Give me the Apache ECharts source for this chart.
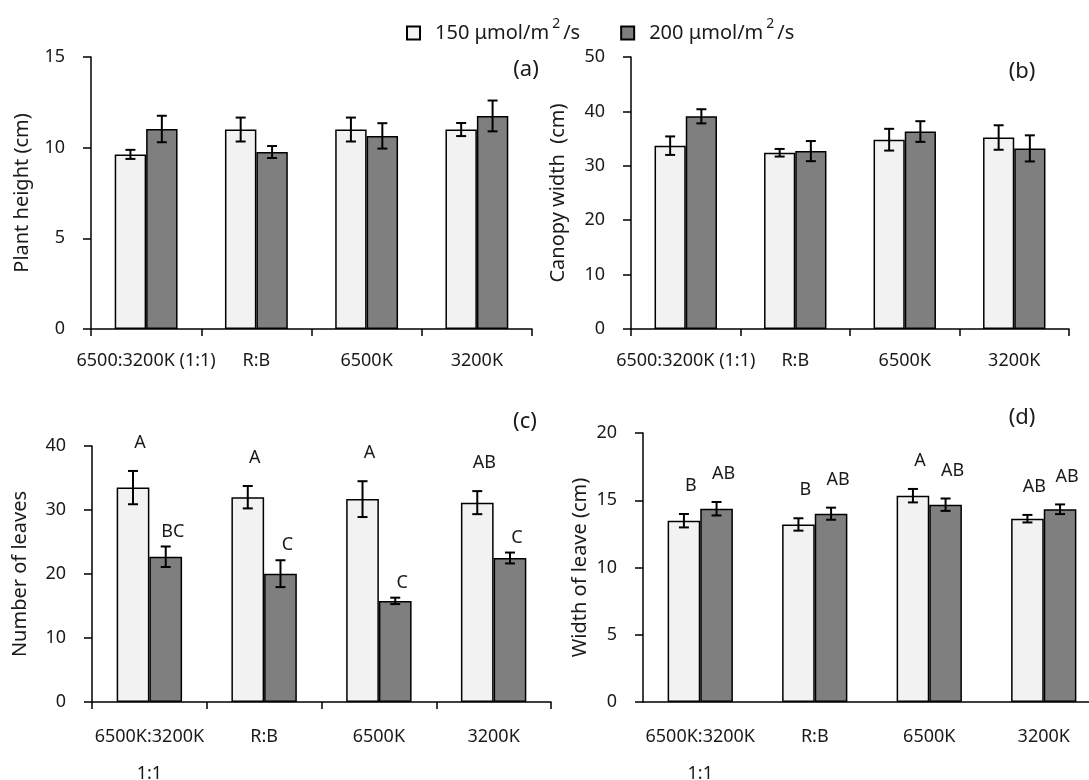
<!DOCTYPE html>
<html><head><meta charset="utf-8">
<script src="https://cdn.jsdelivr.net/npm/echarts@6/dist/echarts.min.js"></script>
<style>html,body{margin:0;padding:0;background:#fff}#c{width:1089px;height:780px}</style>
</head><body><div id="c"></div>
<script>
// ---- data ----
const catsTop = ['6500:3200K (1:1)', 'R:B', '6500K', '3200K'];
const catsBottom = ['6500K:3200K\n1:1', 'R:B', '6500K', '3200K'];
const seriesNames = ['150 μmol/m2/s', '200 μmol/m2/s'];

const heightLow = [9.63, 11.0, 11.0, 11.0];
const heightLowErr = [0.25, 0.66, 0.66, 0.36];
const heightHigh = [11.03, 9.76, 10.65, 11.75];
const heightHighErr = [0.73, 0.33, 0.70, 0.85];

const canopyLow = [33.7, 32.4, 34.8, 35.2];
const canopyLowErr = [1.7, 0.7, 2.0, 2.25];
const canopyHigh = [39.1, 32.7, 36.3, 33.2];
const canopyHighErr = [1.3, 1.85, 1.9, 2.4];

const leavesLow = [33.5, 32.0, 31.7, 31.15];
const leavesLowErr = [2.6, 1.75, 2.8, 1.8];
const leavesHigh = [22.7, 20.05, 15.8, 22.5];
const leavesHighErr = [1.6, 2.1, 0.5, 0.85];
const leavesLowLetters = ['A', 'A', 'A', 'AB'];
const leavesHighLetters = ['BC', 'C', 'C', 'C'];

const widthLow = [13.48, 13.2, 15.34, 13.63];
const widthLowErr = [0.5, 0.46, 0.5, 0.28];
const widthHigh = [14.37, 14.0, 14.67, 14.33];
const widthHighErr = [0.5, 0.45, 0.46, 0.36];
const widthLowLetters = ['B', 'B', 'A', 'AB'];
const widthHighLetters = ['AB', 'AB', 'AB', 'AB'];

// ---- style ----
const FONT = '"Noto Sans", sans-serif';
const TXT = '#1a1a1a';
const LIGHT = '#f2f2f2';
const DARK = '#7f7f7f';
const GAP = 0.43;

const panels = [
  {cats: catsTop, low: heightLow, lowErr: heightLowErr, high: heightHigh, highErr: heightHighErr,
   max: 15, interval: 5, name: 'Plant height (cm)', nameGap: 59, ticks: true, lh: 20, lm: 22,
   grid: {left: 91, top: 57, width: 441, height: 272}},
  {cats: catsTop, low: canopyLow, lowErr: canopyLowErr, high: canopyHigh, highErr: canopyHighErr,
   max: 50, interval: 10, name: 'Canopy width  (cm)', nameGap: 63, ticks: true, lh: 20, lm: 22,
   grid: {left: 631, top: 57, width: 438, height: 272}},
  {cats: catsBottom, low: leavesLow, lowErr: leavesLowErr, high: leavesHigh, highErr: leavesHighErr,
   lowLetters: leavesLowLetters, highLetters: leavesHighLetters, lowOff: 28, highOff: 15,
   max: 40, interval: 10, name: 'Number of leaves', nameGap: 62, ticks: true, lh: 37, lm: 16,
   grid: {left: 92, top: 446, width: 459, height: 256}},
  {cats: catsBottom, low: widthLow, lowErr: widthLowErr, high: widthHigh, highErr: widthHighErr,
   lowLetters: widthLowLetters, highLetters: widthHighLetters, lowOff: 28, highOff: 28,
   max: 20, interval: 5, name: 'Width of leave (cm)', nameGap: 53, ticks: false, lh: 37, lm: 16,
   grid: {left: 643, top: 433, width: 458, height: 269}}
];

const axisLineStyle = {color: '#000', width: 1.5};
const grid = [], xAxis = [], yAxis = [], series = [];

function errSeries(gi, vals, errs, side, letters, off) {
  return {
    type: 'custom', xAxisIndex: gi, yAxisIndex: gi, z: 5, silent: true,
    data: vals.map((v, i) => [i, v, errs[i]]),
    renderItem: function (params, api) {
      const i = api.value(0), v = api.value(1), e = api.value(2);
      const band = api.size([1, 0])[0];
      const bw = band * (1 - GAP) / 2;
      const x = api.coord([i, v])[0] + side * bw / 2;
      const yT = api.coord([i, v + e])[1];
      const yB = api.coord([i, v - e])[1];
      const cap = 5;
      const ls = {stroke: '#000', lineWidth: 2};
      const children = [
        {type: 'line', shape: {x1: x, y1: yT, x2: x, y2: yB}, style: ls},
        {type: 'line', shape: {x1: x - cap, y1: yT, x2: x + cap, y2: yT}, style: ls},
        {type: 'line', shape: {x1: x - cap, y1: yB, x2: x + cap, y2: yB}, style: ls}
      ];
      if (letters) {
        children.push({type: 'text', style: {
          text: letters[params.dataIndex], x: x + 7, y: yT - off,
          textAlign: 'center', textVerticalAlign: 'middle',
          fill: TXT, font: '18px ' + FONT}});
      }
      return {type: 'group', children: children};
    }
  };
}

panels.forEach((p, gi) => {
  grid.push(Object.assign({outerBoundsMode: 'none', containLabel: false}, p.grid));
  xAxis.push({
    type: 'category', gridIndex: gi, data: p.cats,
    axisLine: {lineStyle: axisLineStyle},
    axisTick: {show: p.ticks, length: 7, lineStyle: axisLineStyle},
    axisLabel: {margin: p.lm, fontSize: 18, color: TXT, fontFamily: FONT, lineHeight: p.lh, interval: 0}
  });
  yAxis.push({
    type: 'value', gridIndex: gi, min: 0, max: p.max, interval: p.interval,
    axisLine: {show: true, lineStyle: axisLineStyle},
    axisTick: {show: true, length: 8, lineStyle: axisLineStyle},
    splitLine: {show: false},
    axisLabel: {margin: 26, fontSize: 18, color: TXT, fontFamily: FONT},
    name: p.name, nameLocation: 'middle', nameGap: p.nameGap,
    nameTextStyle: {fontSize: 20, color: TXT, fontFamily: FONT}
  });
  series.push({
    name: seriesNames[0], type: 'bar', xAxisIndex: gi, yAxisIndex: gi, data: p.low,
    barGap: '0%', barCategoryGap: (GAP * 100) + '%',
    itemStyle: {color: LIGHT, borderColor: '#000', borderWidth: 1.5}
  });
  series.push({
    name: seriesNames[1], type: 'bar', xAxisIndex: gi, yAxisIndex: gi, data: p.high,
    barGap: '0%', barCategoryGap: (GAP * 100) + '%',
    itemStyle: {color: DARK, borderColor: '#000', borderWidth: 1.5}
  });
  series.push(errSeries(gi, p.low, p.lowErr, -1, p.lowLetters, p.lowOff));
  series.push(errSeries(gi, p.high, p.highErr, 1, p.highLetters, p.highOff));
});

const panelTags = [
  {t: '(a)', x: 526, y: 70}, {t: '(b)', x: 1022, y: 72},
  {t: '(c)', x: 525, y: 422}, {t: '(d)', x: 1022, y: 418}
];

const option = {
  backgroundColor: '#fff',
  animation: false,
  grid, xAxis, yAxis, series,
  legend: {
    left: 401, top: 12, itemWidth: 13, itemHeight: 13, itemGap: 40, icon: 'rect',
    data: seriesNames,
    formatter: function (n) {
      const parts = n.split('m2/s');
      return '{p|}{t|' + parts[0] + 'm}{s|2}{t|/s}';
    },
    textStyle: {
      rich: {
        p: {width: 10, fontSize: 20, lineHeight: 32},
        t: {fontSize: 20, color: TXT, fontFamily: FONT, lineHeight: 32},
        s: {fontSize: 14, color: TXT, fontFamily: FONT, verticalAlign: 'top', padding: [0, 3, 0, 3]}
      }
    }
  },
  graphic: panelTags.map(g => ({
    type: 'text', x: g.x, y: g.y,
    style: {text: g.t, textAlign: 'center', textVerticalAlign: 'middle', fill: TXT, font: '22px ' + FONT}
  }))
};

const chart = echarts.init(document.getElementById('c'), null, {renderer: 'canvas'});
chart.setOption(option);
</script>
</body></html>
